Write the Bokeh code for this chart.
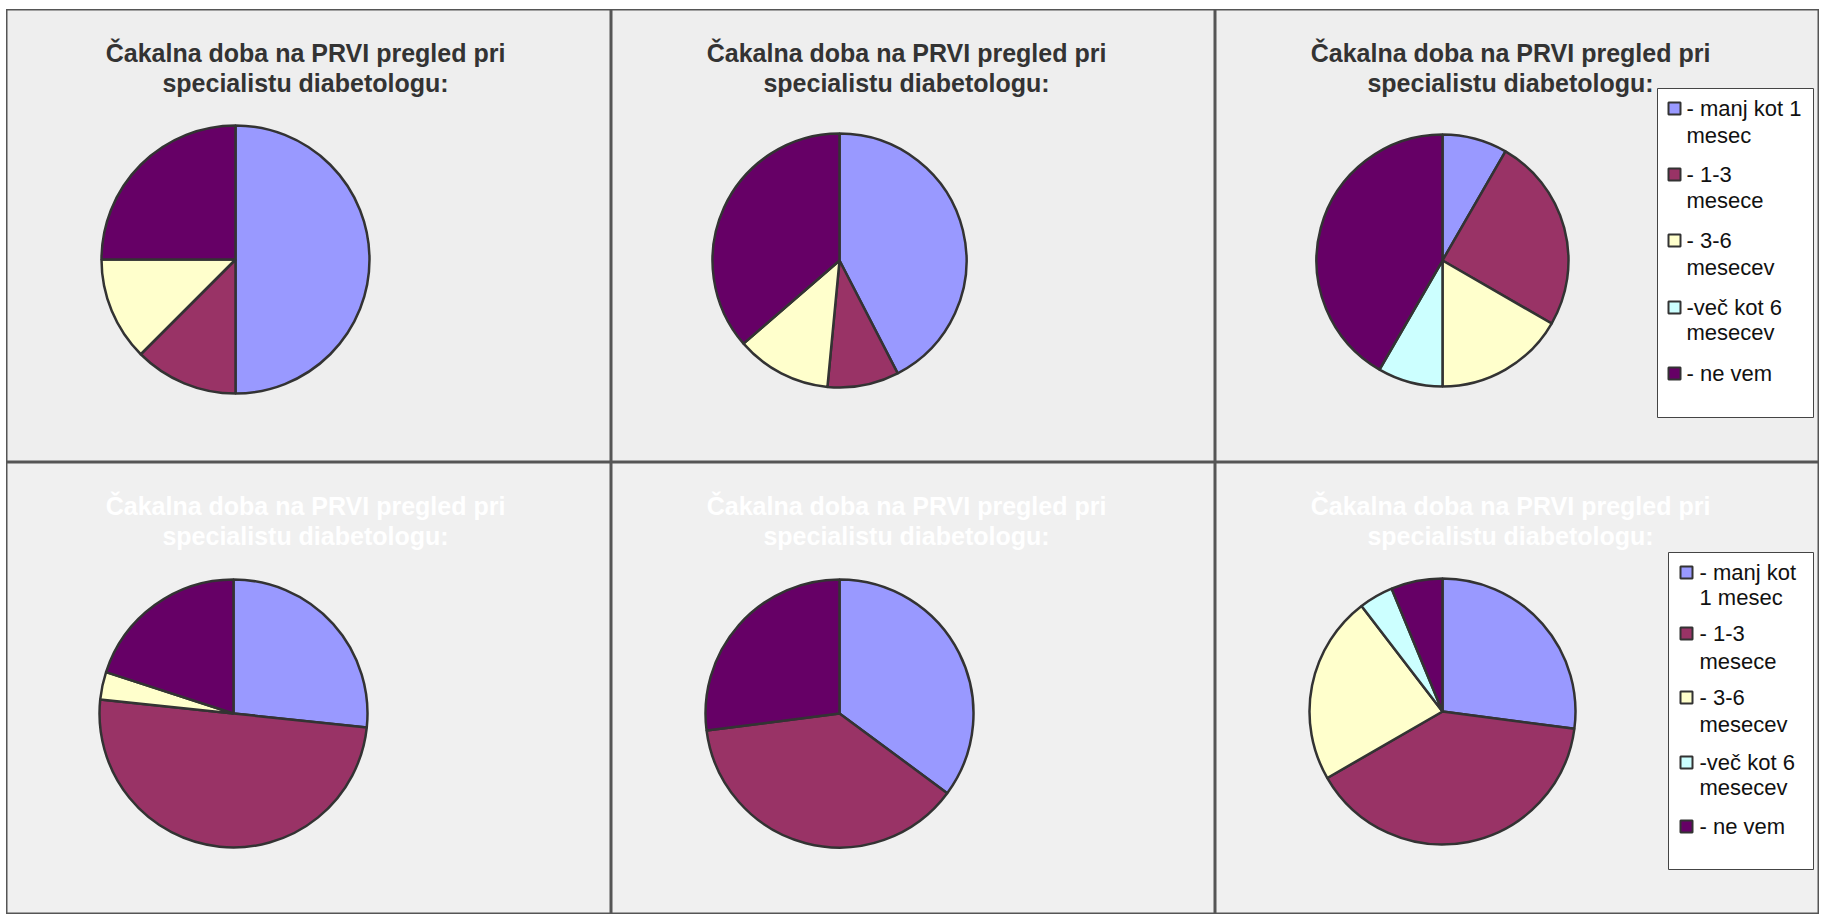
import numpy as np
from bokeh.plotting import figure
from bokeh.layouts import column, row
from bokeh.models import Range1d, ColumnDataSource
from bokeh.core.properties import value
from bokeh.embed import file_html
from bokeh.resources import INLINE

# ---------------- data ----------------
categories = ["- manj kot 1 mesec", "- 1-3 mesece", "- 3-6 mesecev", "-več kot 6 mesecev", "- ne vem"]
colors = ["#9999FF", "#993366", "#FFFFCC", "#CCFFFF", "#660066"]

title_lines = ["Čakalna doba na PRVI pregled pri", "specialistu diabetologu:"]

vals_1 = [4, 1, 1, 0, 2]
vals_2 = [14, 3, 4, 0, 12]
vals_3 = [1, 3, 2, 1, 5]
vals_4 = [8, 15, 1, 0, 6]
vals_5 = [13, 14, 0, 0, 10]
vals_6 = [13, 19, 11, 2, 3]

legend_lines_top = [["- manj kot 1", "mesec"], ["- 1-3", "mesece"], ["- 3-6", "mesecev"],
                    ["-več kot 6", "mesecev"], ["- ne vem"]]
legend_lines_bottom = [["- manj kot", "1 mesec"], ["- 1-3", "mesece"], ["- 3-6", "mesecev"],
                       ["-več kot 6", "mesecev"], ["- ne vem"]]

# ---------------- layout ----------------
WIDTHS = [605, 604, 604]
H_TOP = 453
H_BOT = 452
FONT = "Liberation Sans"


def make_panel(vals, W, H, bg, title_color, title_x, cx, cy_down, r, legend=None):
    p = figure(width=W, height=H, x_range=Range1d(0, W), y_range=Range1d(0, H),
               x_axis_type=None, y_axis_type=None, toolbar_location=None,
               output_backend="svg", min_border=0, tools="")
    p.grid.visible = False
    p.background_fill_color = bg
    p.border_fill_color = bg
    p.outline_line_color = "#555555"
    p.outline_line_width = 2

    # title
    p.text(x=[title_x, title_x], y=[H - 43, H - 73], text=title_lines,
           text_font=value(FONT), text_font_style="bold", text_font_size="25px",
           text_align="center", text_baseline="alphabetic", text_color=title_color)

    # pie
    v = np.array(vals, dtype=float)
    frac = v / v.sum()
    cum = np.concatenate([[0.0], np.cumsum(frac)])
    starts = np.pi / 2 - 2 * np.pi * cum[:-1]
    ends = np.pi / 2 - 2 * np.pi * cum[1:]
    keep = v > 0
    src = ColumnDataSource(dict(
        start=starts[keep], end=ends[keep],
        color=[c for c, k in zip(colors, keep) if k],
        cat=[c for c, k in zip(categories, keep) if k],
    ))
    p.wedge(x=cx, y=H - cy_down, radius=r, start_angle="start", end_angle="end",
            direction="clock", fill_color="color", line_color="#333333",
            line_width=2.5, source=src)

    if legend is not None:
        (bx0, by0, bx1, by1, sw_x, tx, rows) = legend
        p.quad(left=[bx0], right=[bx1], top=[H - by0], bottom=[H - by1],
               fill_color="white", line_color="#444444", line_width=1)
        lines_txt, lines_y = [], []
        sw_y = []
        for (lines, ys) in rows:
            sw_y.append(ys[0])
            for t, yy in zip(lines, ys):
                lines_txt.append(t)
                lines_y.append(H - yy)
        p.rect(x=[sw_x] * len(colors), y=[H - y for y in sw_y], width=12, height=12,
               fill_color=colors, line_color="#333333", line_width=2)
        p.text(x=[tx] * len(lines_txt), y=lines_y, text=lines_txt,
               text_font=value(FONT), text_font_size="22px", text_color="#111111",
               text_align="left", text_baseline="middle")
    return p


top_rows = [(legend_lines_top[0], [99, 126]), (legend_lines_top[1], [165, 191]),
            (legend_lines_top[2], [231, 258]), (legend_lines_top[3], [298, 323]),
            (legend_lines_top[4], [364])]
bot_rows = [(legend_lines_bottom[0], [110, 135]), (legend_lines_bottom[1], [171, 199]),
            (legend_lines_bottom[2], [235, 262]), (legend_lines_bottom[3], [300, 325]),
            (legend_lines_bottom[4], [364])]

BG_TOP = "#EEEEEE"
BG_BOT = "#F0F0F0"

p1 = make_panel(vals_1, WIDTHS[0], H_TOP, BG_TOP, "#333333", 299, 229, 250, 134)
p2 = make_panel(vals_2, WIDTHS[1], H_TOP, BG_TOP, "#333333", 295, 228, 251, 127)
p3 = make_panel(vals_3, WIDTHS[2], H_TOP, BG_TOP, "#333333", 295, 227, 251, 126,
                legend=(442, 79, 598, 408, 459, 471, top_rows))
p4 = make_panel(vals_4, WIDTHS[0], H_BOT, BG_BOT, "#FFFFFF", 299, 227, 251, 134)
p5 = make_panel(vals_5, WIDTHS[1], H_BOT, BG_BOT, "#FFFFFF", 295, 228, 251, 134)
p6 = make_panel(vals_6, WIDTHS[2], H_BOT, BG_BOT, "#FFFFFF", 295, 227, 249, 133,
                legend=(453, 90, 598, 407, 471, 484, bot_rows))

layout = column(row(p1, p2, p3), row(p4, p5, p6), margin=(9, 0, 0, 6))

open("out.html", "w").write(file_html(layout, INLINE))
